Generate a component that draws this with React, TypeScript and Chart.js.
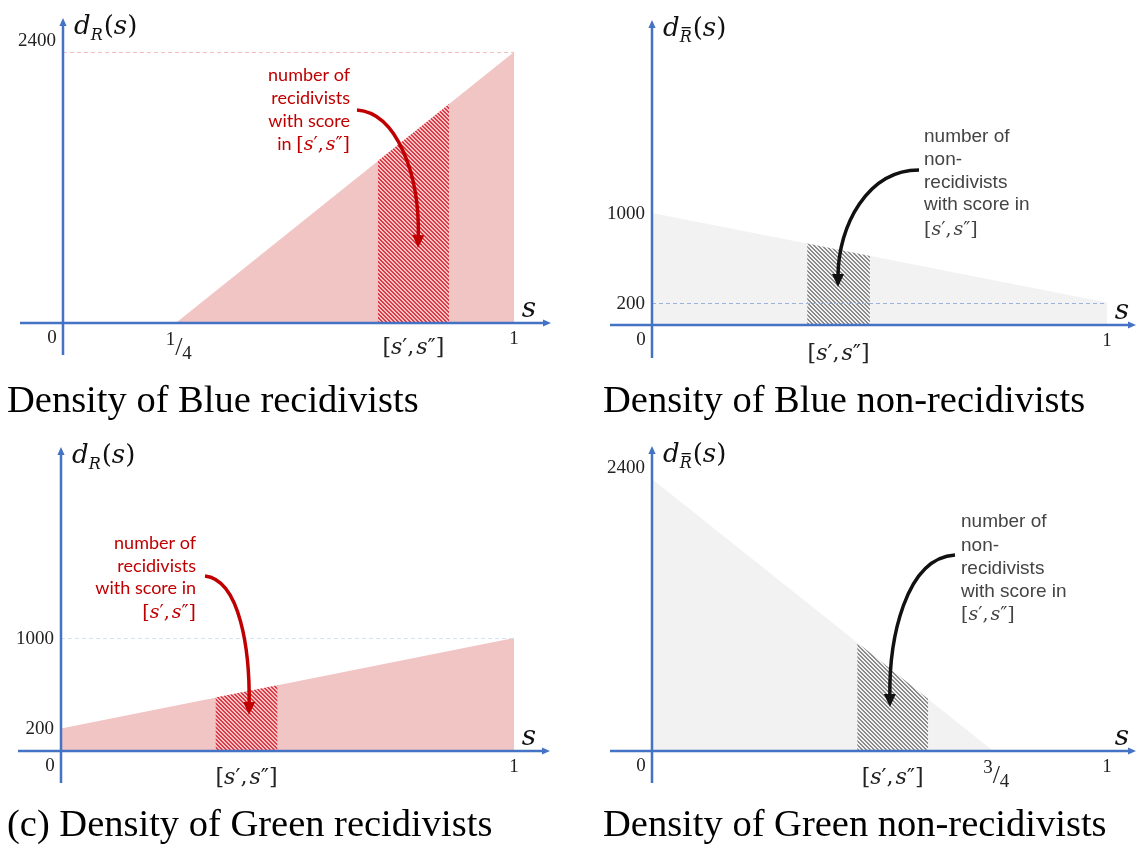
import { useEffect, useRef } from 'react';
import { Chart, registerables } from 'chart.js';
Chart.register(...registerables);

const W = 1137;
const H = 847;

// ---------- data ----------
const blueRecS = [0, 0.25, 1];
const blueRecD = [0, 0, 2400];
const blueRecBand = [0.698, 0.856];
const blueRecBandD = [1435, 1940];
const blueRecYTicks = [2400];
const blueRecXTicks = [0.25, 1];
const blueRecXLabels = ['1/4', '1'];

const blueNonS = [0, 1];
const blueNonD = [1000, 200];
const blueNonBand = [0.341, 0.479];
const blueNonBandD = [727, 617];
const blueNonYTicks = [1000, 200];
const blueNonXTicks = [1];
const blueNonXLabels = ['1'];

const greenRecS = [0, 1];
const greenRecD = [200, 1000];
const greenRecBand = [0.341, 0.478];
const greenRecBandD = [473, 582];
const greenRecYTicks = [1000, 200];
const greenRecXTicks = [1];
const greenRecXLabels = ['1'];

const greenNonS = [0, 0.75, 1];
const greenNonD = [2400, 0, 0];
const greenNonBand = [0.451, 0.607];
const greenNonBandD = [957, 458];
const greenNonYTicks = [2400];
const greenNonXTicks = [0.75, 1];
const greenNonXLabels = ['3/4', '1'];

// ---------- styles ----------
const AXIS = '#4472c4';
const PINK = '#f2c5c5';
const GRAY = '#f2f2f2';
const RED = '#c00000';
const MATH = '"DejaVu Serif"';
const NUM_FONT = '19px "Liberation Serif"';
const CAP_FONT = '38.5px "Liberation Serif"';
const mf = (size: number, it = false) => `${it ? 'italic ' : ''}${size}px ${MATH}`;

type Run = { t: string; f: string; dy?: number; bar?: boolean; gap?: number };

function drawRuns(ctx: CanvasRenderingContext2D, runs: Run[], x: number, y: number, align: string, color: string) {
  ctx.textBaseline = 'alphabetic';
  ctx.textAlign = 'left';
  let total = 0;
  const ws = runs.map((r) => {
    ctx.font = r.f;
    const w = ctx.measureText(r.t).width + (r.gap || 0);
    total += w;
    return w;
  });
  let cx = align === 'left' ? x : align === 'right' ? x - total : x - total / 2;
  ctx.fillStyle = color;
  runs.forEach((r, i) => {
    ctx.font = r.f;
    const yy = y + (r.dy || 0);
    ctx.fillText(r.t, cx, yy);
    if (r.bar) {
      ctx.fillRect(cx + 2, yy - 15, ws[i] - 4, 1.3);
    }
    cx += ws[i];
  });
}

const bracketRuns = (size: number): Run[] => [
  { t: '[', f: mf(size) },
  { t: 's', f: mf(size, true) },
  { t: '′,', f: mf(size), gap: 2 },
  { t: 's', f: mf(size, true) },
  { t: '″', f: mf(size) },
  { t: ']', f: mf(size) },
];

const titleRuns = (bar: boolean): Run[] => [
  { t: 'd', f: mf(26, true) },
  { t: 'R', f: mf(16, true), dy: 6, bar, gap: 1 },
  { t: '(', f: mf(26) },
  { t: 's', f: mf(26, true) },
  { t: ')', f: mf(26) },
];

function arrowLine(ctx: CanvasRenderingContext2D, x1: number, y1: number, x2: number, y2: number) {
  const ang = Math.atan2(y2 - y1, x2 - x1);
  const hl = 8;
  const hw = 3.6;
  const bx = x2 - Math.cos(ang) * hl;
  const by = y2 - Math.sin(ang) * hl;
  ctx.strokeStyle = AXIS;
  ctx.fillStyle = AXIS;
  ctx.lineWidth = 2.5;
  ctx.beginPath();
  ctx.moveTo(x1, y1);
  ctx.lineTo(bx + Math.cos(ang) * 2, by + Math.sin(ang) * 2);
  ctx.stroke();
  ctx.beginPath();
  ctx.moveTo(x2, y2);
  ctx.lineTo(bx - Math.sin(ang) * hw, by + Math.cos(ang) * hw);
  ctx.lineTo(bx + Math.sin(ang) * hw, by - Math.cos(ang) * hw);
  ctx.closePath();
  ctx.fill();
}

function curvedArrow(ctx: CanvasRenderingContext2D, p: number[][], color: string) {
  const [p0, p1, p2, p3] = p;
  const ang = Math.atan2(p3[1] - p2[1], p3[0] - p2[0]);
  const hl = 13;
  const hw = 6;
  const bx = p3[0] - Math.cos(ang) * hl;
  const by = p3[1] - Math.sin(ang) * hl;
  ctx.strokeStyle = color;
  ctx.fillStyle = color;
  ctx.lineWidth = 3.5;
  ctx.lineCap = 'butt';
  ctx.beginPath();
  ctx.moveTo(p0[0], p0[1]);
  ctx.bezierCurveTo(p1[0], p1[1], p2[0], p2[1], bx + Math.cos(ang) * 3, by + Math.sin(ang) * 3);
  ctx.stroke();
  ctx.beginPath();
  ctx.moveTo(p3[0], p3[1]);
  ctx.lineTo(bx - Math.sin(ang) * hw, by + Math.cos(ang) * hw);
  ctx.lineTo(bx + Math.sin(ang) * hw, by - Math.cos(ang) * hw);
  ctx.closePath();
  ctx.fill();
}

function makeHatch(ctx: CanvasRenderingContext2D, line: string, bg: string, period: number, width: number) {
  const c = document.createElement('canvas');
  c.width = period;
  c.height = period;
  const g = c.getContext('2d')!;
  g.fillStyle = bg;
  g.fillRect(0, 0, period, period);
  g.fillStyle = line;
  for (let y = 0; y < period; y++) {
    for (let x = 0; x < period; x++) {
      if ((((x - y) % period) + period) % period < width) g.fillRect(x, y, 1, 1);
    }
  }
  return ctx.createPattern(c, 'repeat');
}

type Note = { lines: string[]; x: number; y: number[]; align: string; color: string; font: string; mathSize: number };
type Cfg = {
  s: number[]; d: number[]; band: number[]; bandD: number[]; yMax: number;
  area: string; hatchLine: string; hatchPeriod: number; hatchWidth: number;
  pad: { left: number; right: number; top: number; bottom: number };
  yAxis: number[]; xAxis: number[];
  yTicks: number[]; yTickDy: number; xTicks: number[]; xLabels: string[];
  bandLabelDy: number;
  guide?: { v: number; color: string };
  bar: boolean;
  note: Note;
  arrow: number[][]; arrowColor: string;
  caption: string; capX: number; capY: number;
};

const panels: Cfg[] = [
  {
    s: blueRecS, d: blueRecD, band: blueRecBand, bandD: blueRecBandD, yMax: 2400,
    area: PINK, hatchLine: '#e03a48', hatchPeriod: 4, hatchWidth: 2,
    pad: { left: 63, right: W - 514, top: 52, bottom: H - 323 },
    yAxis: [18, 355], xAxis: [20, 551],
    yTicks: blueRecYTicks, yTickDy: -11, xTicks: blueRecXTicks, xLabels: blueRecXLabels,
    bandLabelDy: 31,
    guide: { v: 2400, color: 'rgba(236,150,150,0.6)' },
    bar: false,
    note: { lines: ['number of', 'recidivists', 'with score', 'in [s′,s″]'], x: 350, y: [75, 98, 121, 144], align: 'right', color: RED, font: '18px Lato', mathSize: 19 },
    arrow: [[357, 110], [397, 113], [420, 175], [418, 248]], arrowColor: RED,
    caption: 'Density of Blue recidivists', capX: 7, capY: 412,
  },
  {
    s: blueNonS, d: blueNonD, band: blueNonBand, bandD: blueNonBandD, yMax: 1000,
    area: GRAY, hatchLine: '#8c8c8c', hatchPeriod: 4, hatchWidth: 2,
    pad: { left: 652, right: W - 1107, top: 213, bottom: H - 325 },
    yAxis: [20, 358], xAxis: [610, 1136],
    yTicks: blueNonYTicks, yTickDy: 1, xTicks: blueNonXTicks, xLabels: blueNonXLabels,
    bandLabelDy: 35,
    guide: { v: 200, color: '#9ab3e0' },
    bar: true,
    note: { lines: ['number of', 'non-', 'recidivists', 'with score in', '[s′,s″]'], x: 924, y: [136, 159, 182, 204, 229], align: 'left', color: '#444444', font: '19px "Liberation Sans"', mathSize: 19 },
    arrow: [[919, 170], [868, 170], [838, 225], [838, 287]], arrowColor: '#111111',
    caption: 'Density of Blue non-recidivists', capX: 603, capY: 412,
  },
  {
    s: greenRecS, d: greenRecD, band: greenRecBand, bandD: greenRecBandD, yMax: 1000,
    area: PINK, hatchLine: '#e03a48', hatchPeriod: 4, hatchWidth: 2,
    pad: { left: 61, right: W - 514, top: 638, bottom: H - 751 },
    yAxis: [447, 783], xAxis: [18, 550],
    yTicks: greenRecYTicks, yTickDy: 1, xTicks: greenRecXTicks, xLabels: greenRecXLabels,
    bandLabelDy: 33,
    guide: { v: 1000, color: '#d6e0f3' },
    bar: false,
    note: { lines: ['number of', 'recidivists', 'with score in', '[s′,s″]'], x: 196, y: [543, 566, 588, 612], align: 'right', color: RED, font: '18px Lato', mathSize: 19 },
    arrow: [[205, 576], [240, 580], [250, 650], [249, 715]], arrowColor: RED,
    caption: '(c) Density of Green recidivists', capX: 7, capY: 836,
  },
  {
    s: greenNonS, d: greenNonD, band: greenNonBand, bandD: greenNonBandD, yMax: 2400,
    area: GRAY, hatchLine: '#8c8c8c', hatchPeriod: 4, hatchWidth: 2,
    pad: { left: 652, right: W - 1107, top: 479, bottom: H - 751 },
    yAxis: [446, 783], xAxis: [610, 1136],
    yTicks: greenNonYTicks, yTickDy: -11, xTicks: greenNonXTicks, xLabels: greenNonXLabels,
    bandLabelDy: 33,
    bar: true,
    note: { lines: ['number of', 'non-', 'recidivists', 'with score in', '[s′,s″]'], x: 961, y: [521, 545, 568, 591, 614], align: 'left', color: '#444444', font: '19px "Liberation Sans"', mathSize: 19 },
    arrow: [[955, 555], [905, 558], [889, 640], [890, 707]], arrowColor: '#111111',
    caption: 'Density of Green non-recidivists', capX: 603, capY: 836,
  },
];

function noteRuns(line: string, font: string, mathSize: number): Run[] {
  const token = '[s′,s″]';
  const i = line.indexOf(token);
  if (i < 0) return [{ t: line, f: font }];
  const runs: Run[] = [];
  if (i > 0) runs.push({ t: line.slice(0, i), f: font });
  return runs.concat(bracketRuns(mathSize));
}

function overlayPlugin(cfg: Cfg) {
  return {
    id: 'overlay',
    afterDatasetsDraw(chart: any) {
      const ctx: CanvasRenderingContext2D = chart.ctx;
      const xs = chart.scales.x;
      const ys = chart.scales.y;
      const X = (v: number) => xs.getPixelForValue(v);
      const Y = (v: number) => ys.getPixelForValue(v);
      const ox = X(0);
      const oy = Y(0);
      ctx.save();

      if (cfg.guide) {
        ctx.setLineDash([4, 3]);
        ctx.strokeStyle = cfg.guide.color;
        ctx.lineWidth = 1;
        ctx.beginPath();
        ctx.moveTo(ox, Math.round(Y(cfg.guide.v)) + 0.5);
        ctx.lineTo(X(1), Math.round(Y(cfg.guide.v)) + 0.5);
        ctx.stroke();
        ctx.setLineDash([]);
      }

      // axes
      arrowLine(ctx, cfg.xAxis[0], oy, cfg.xAxis[1], oy);
      arrowLine(ctx, ox, cfg.yAxis[1], ox, cfg.yAxis[0]);

      // y ticks
      ctx.font = NUM_FONT;
      ctx.fillStyle = '#222';
      ctx.textAlign = 'right';
      ctx.textBaseline = 'middle';
      cfg.yTicks.forEach((v) => ctx.fillText(String(v), ox - 7, Y(v) + cfg.yTickDy));
      // origin
      ctx.textAlign = 'center';
      ctx.fillText('0', ox - 11, oy + 15);

      // x ticks
      cfg.xTicks.forEach((v, i) => {
        const lab = cfg.xLabels[i];
        if (lab.includes('/')) {
          const [a, b] = lab.split('/');
          drawRuns(ctx, [
            { t: a, f: '19px "Liberation Serif"', dy: -10 },
            { t: '/', f: '26px "Liberation Serif"' },
            { t: b, f: '19px "Liberation Serif"', dy: 4 },
          ], X(v) + 3, oy + 32, 'center', '#222');
        } else {
          ctx.font = NUM_FONT;
          ctx.fillStyle = '#222';
          ctx.textAlign = 'center';
          ctx.textBaseline = 'middle';
          ctx.fillText(lab, X(v), oy + 16);
        }
      });

      // band label
      const mid = (X(cfg.band[0]) + X(cfg.band[1])) / 2;
      drawRuns(ctx, bracketRuns(22), mid, oy + cfg.bandLabelDy, 'center', '#222');

      // axis titles
      drawRuns(ctx, titleRuns(cfg.bar), ox + 11, cfg.yAxis[0] + 16, 'left', '#111');
      ctx.font = mf(28, true);
      ctx.fillStyle = '#111';
      ctx.textAlign = 'center';
      ctx.textBaseline = 'alphabetic';
      ctx.fillText('s', X(1) + 15, oy - 6);

      // annotation
      const n = cfg.note;
      n.lines.forEach((line, i) => {
        drawRuns(ctx, noteRuns(line, n.font, n.mathSize), n.x, n.y[i] + 6, n.align, n.color);
      });
      curvedArrow(ctx, cfg.arrow, cfg.arrowColor);

      // caption
      ctx.font = CAP_FONT;
      ctx.fillStyle = '#000';
      ctx.textAlign = 'left';
      ctx.textBaseline = 'alphabetic';
      ctx.fillText(cfg.caption, cfg.capX, cfg.capY);

      ctx.restore();
    },
  };
}

function Panel({ cfg }: { cfg: Cfg }) {
  const ref = useRef<HTMLCanvasElement>(null);
  useEffect(() => {
    const canvas = ref.current!;
    const ctx = canvas.getContext('2d')!;
    const pattern = makeHatch(ctx, cfg.hatchLine, cfg.area, cfg.hatchPeriod, cfg.hatchWidth);
    const area = cfg.s.map((x, i) => ({ x, y: cfg.d[i] }));
    const band = cfg.band.map((x, i) => ({ x, y: cfg.bandD[i] }));
    const chart = new Chart(canvas, {
      type: 'line',
      data: {
        datasets: [
          { data: band, fill: 'origin', backgroundColor: pattern as any, borderWidth: 0, borderColor: 'transparent', pointRadius: 0, order: 0 },
          { data: area, fill: 'origin', backgroundColor: cfg.area, borderWidth: 0, borderColor: 'transparent', pointRadius: 0, order: 1 },
        ],
      },
      options: {
        animation: false,
        responsive: false,
        devicePixelRatio: 1,
        events: [],
        layout: { padding: cfg.pad },
        scales: {
          x: { type: 'linear', min: 0, max: 1, display: false },
          y: { type: 'linear', min: 0, max: cfg.yMax, display: false },
        },
        plugins: { legend: { display: false }, tooltip: { enabled: false }, title: { display: false } },
      },
      plugins: [overlayPlugin(cfg)],
    });
    return () => chart.destroy();
  }, [cfg]);
  return (
    <canvas
      ref={ref}
      width={W}
      height={H}
      style={{ position: 'absolute', left: 0, top: 0, width: W, height: H, pointerEvents: 'none' }}
    />
  );
}

export default function App() {
  return (
    <div style={{ position: 'absolute', left: 0, top: 0, width: W, height: H, background: '#fff', overflow: 'hidden' }}>
      {panels.map((p, i) => (
        <Panel key={i} cfg={p} />
      ))}
    </div>
  );
}
